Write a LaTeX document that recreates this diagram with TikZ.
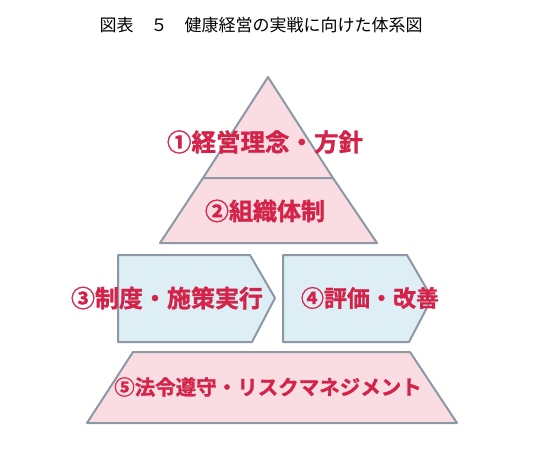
\documentclass[tikz,border=0pt]{standalone}
\usepackage{fontspec}
\newfontfamily\cjk{Noto Sans CJK JP}
\newfontfamily\cjkheavy{Noto Sans CJK JP}[UprightFont=* Bold, FakeBold=1.2]
\definecolor{tierpink}{HTML}{FADDE3}
\definecolor{tierblue}{HTML}{DDEEF5}
\definecolor{tierline}{HTML}{8D97A6}
\definecolor{labelred}{HTML}{D42248}
\begin{document}
\begin{tikzpicture}[x=1pt,y=-1pt,
    pinktier/.style={fill=tierpink, draw=tierline, line width=2pt, line join=round},
    bluechevron/.style={fill=tierblue, draw=tierline, line width=2pt, line join=round},
    tierlabel/.style={text=labelred, inner sep=0pt}]
    \useasboundingbox (0,0) rectangle (536,466);

    % Title
    \node[font=\cjk\fontsize{17}{20}\selectfont] (title) at (261,25) {図表　５　健康経営の実戦に向けた体系図};

    % Pyramid top
    \draw[pinktier] (268,77) -- (333,178) -- (203,178) -- cycle;
    \draw[pinktier] (203,178) -- (333,178) -- (377,243) -- (160,243) -- cycle;

    % Middle row: two chevrons
    \draw[bluechevron] (118,255) -- (250,255) -- (275,298) -- (252,342) -- (118,342) -- cycle;
    \draw[bluechevron] (283,255) -- (407,255) -- (432,298) -- (409,342) -- (283,342) -- cycle;

    % Base
    \draw[pinktier] (133,352) -- (410,352) -- (457,423) -- (87,423) -- cycle;

    % Labels
    \node[tierlabel, font=\cjkheavy\fontsize{24.5}{28}\selectfont] (policy) at (265,142) {①経営理念・方針};
    \node[tierlabel, font=\cjkheavy\fontsize{24}{28}\selectfont] (org) at (265,211) {②組織体制};
    \node[tierlabel, font=\cjkheavy\fontsize{24}{28}\selectfont] (exec) at (167,298) {③制度・施策実行};
    \node[tierlabel, font=\cjkheavy\fontsize{23}{28}\selectfont] (review) at (370,298) {④評価・改善};
    \node[tierlabel, font=\cjkheavy\fontsize{20.5}{24}\selectfont] (risk) at (268,387) {⑤法令遵守・リスクマネジメント};
\end{tikzpicture}
\end{document}
